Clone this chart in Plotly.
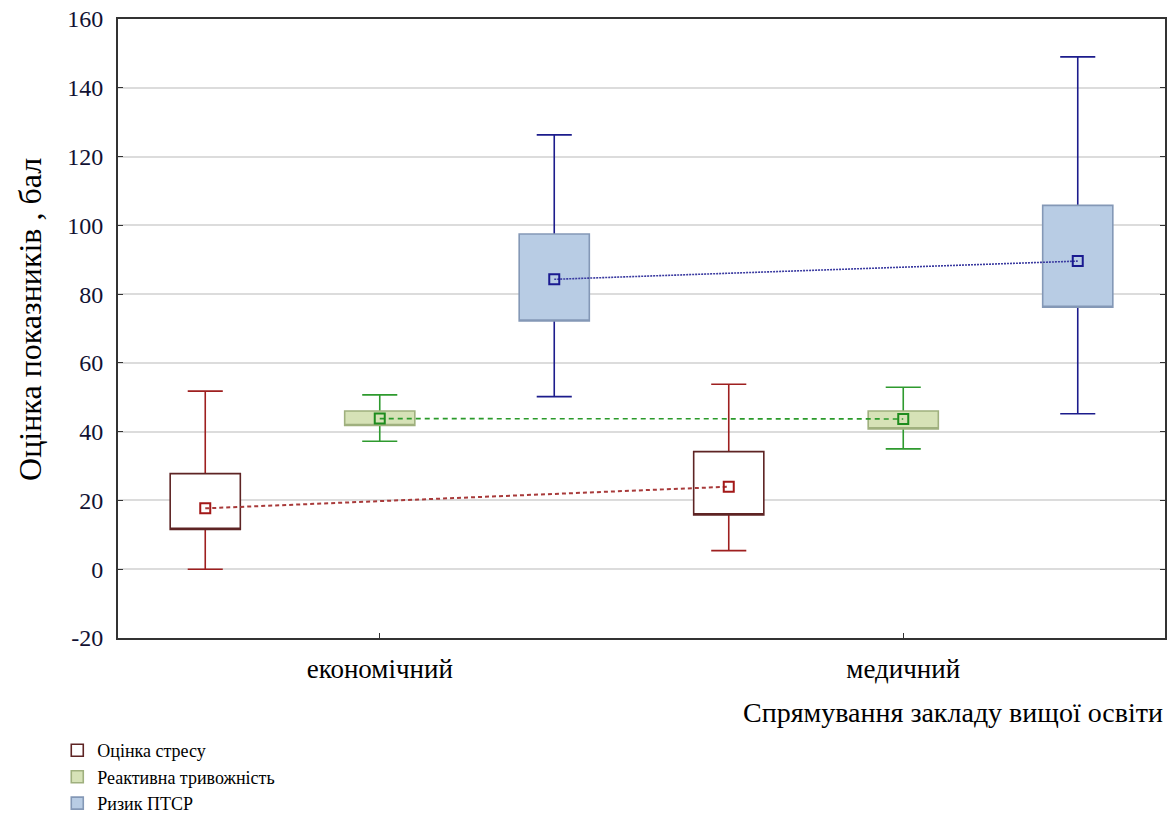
import plotly.graph_objects as go

categories = ["економічний", "медичний"]
cat_pos = [0, 1]

series_names = ["Оцінка стресу", "Реактивна тривожність", "Ризик ПТСР"]

# per series: [економічний, медичний]
stress_mean = [17.7, 24.0]
stress_box_low = [11.6, 15.8]
stress_box_high = [27.8, 34.2]
stress_whisk_low = [0.0, 5.4]
stress_whisk_high = [51.8, 53.8]

react_mean = [43.8, 43.7]
react_box_low = [41.8, 40.8]
react_box_high = [46.0, 46.0]
react_whisk_low = [37.2, 35.0]
react_whisk_high = [50.7, 52.9]

ptsd_mean = [84.3, 89.6]
ptsd_box_low = [72.2, 76.2]
ptsd_box_high = [97.5, 105.8]
ptsd_whisk_low = [50.2, 45.2]
ptsd_whisk_high = [126.3, 149.0]

y_ticks = [-20, 0, 20, 40, 60, 80, 100, 120, 140, 160]
y_tick_labels = ["-20", "0", "20", "40", "60", "80", "100", "120", "140", "160"]

offsets = [-1/3, 0, 1/3]
whisker_colors = ["#9e1f1f", "#2e9a2e", "#1c1c8c"]
box_line_colors = ["#5e2424", "#9fb07e", "#8498b6"]
box_fills = ["#ffffff", "#d6e2b7", "#b8cce4"]
mean_colors = ["#a31818", "#1e8c1e", "#1a1a90"]
line_colors = ["#a83a3a", "#2a9a2a", "#3a3aa0"]
dashes = ["4px,3px", "5px,4px", "2px,1px"]
line_widths = [2, 1.6, 1.6]

data = [
    (stress_mean, stress_box_low, stress_box_high, stress_whisk_low, stress_whisk_high),
    (react_mean, react_box_low, react_box_high, react_whisk_low, react_whisk_high),
    (ptsd_mean, ptsd_box_low, ptsd_box_high, ptsd_whisk_low, ptsd_whisk_high),
]

serif = "Liberation Serif"
fig = go.Figure()
box_w = 0.134

for i, (mean, bl, bh, wl, wh) in enumerate(data):
    xs = [c + offsets[i] for c in cat_pos]
    # whiskers (box collapsed at the mean, hidden under the body box)
    fig.add_trace(go.Box(
        x=xs, q1=mean, median=mean, q3=mean, lowerfence=wl, upperfence=wh,
        width=box_w, whiskerwidth=0.5, boxpoints=False,
        line=dict(color=whisker_colors[i], width=1.6),
        fillcolor="rgba(0,0,0,0)", showlegend=False, hoverinfo="skip",
        legendgroup=series_names[i],
    ))
for i, (mean, bl, bh, wl, wh) in enumerate(data):
    xs = [c + offsets[i] for c in cat_pos]
    # box body
    fig.add_trace(go.Box(
        x=xs, q1=bl, median=bl, q3=bh, lowerfence=bl, upperfence=bh,
        width=box_w, whiskerwidth=0, boxpoints=False,
        line=dict(color=box_line_colors[i], width=1.6),
        fillcolor=box_fills[i], name=series_names[i], showlegend=True,
        legendgroup=series_names[i],
    ))

for i, (mean, bl, bh, wl, wh) in enumerate(data):
    xs = [c + offsets[i] for c in cat_pos]
    fig.add_trace(go.Scatter(
        x=xs, y=mean, mode="lines+markers",
        line=dict(color=line_colors[i], width=line_widths[i], dash=dashes[i]),
        marker=dict(symbol="square-open", size=10, color=mean_colors[i],
                    line=dict(width=2, color=mean_colors[i])),
        showlegend=False, legendgroup=series_names[i],
    ))

fig.update_layout(
    width=1173, height=817,
    margin=dict(l=118, r=8, t=19, b=179, autoexpand=False),
    paper_bgcolor="white", plot_bgcolor="white",
    boxmode="overlay",
    font=dict(family=serif, color="#000000"),
    showlegend=True,
    legend=dict(x=-0.058, y=-0.152, xanchor="left", yanchor="top",
                font=dict(family=serif, size=18, color="#000"),
                bgcolor="rgba(0,0,0,0)", tracegroupgap=0),
    xaxis=dict(
        range=[-0.5, 1.5], tickmode="array", tickvals=cat_pos, ticktext=categories,
        ticks="inside", ticklen=5, tickcolor="#333", showgrid=False, zeroline=False,
        showline=True, linecolor="#333", linewidth=2, mirror=True,
        tickfont=dict(family=serif, size=27, color="#000"), ticklabelstandoff=6,
    ),
    yaxis=dict(
        range=[-20, 160], tickmode="array", tickvals=y_ticks, ticktext=y_tick_labels,
        ticks="inside", ticklen=5, tickcolor="#333",
        showgrid=True, gridcolor="#dcdcdc", gridwidth=1.8, zeroline=False,
        showline=True, linecolor="#333", linewidth=2, mirror="ticks",
        tickfont=dict(family=serif, size=24, color="#111133"), ticklabelstandoff=8,
        ticklabeloverflow="allow",
    ),
    annotations=[
        dict(text="Оцінка показників , бал", xref="paper", yref="paper",
             x=-0.084, y=0.514, xanchor="center", yanchor="middle", textangle=-90,
             showarrow=False, font=dict(family=serif, size=32, color="#000")),
        dict(text="Спрямування закладу вищої освіти", xref="paper", yref="paper",
             x=1.0, y=-0.121, xanchor="right", yanchor="middle", showarrow=False,
             font=dict(family=serif, size=28, color="#000")),
    ],
)

fig.write_html("out.html", config={"displayModeBar": False},
               post_script="document.body.style.margin='0';")
